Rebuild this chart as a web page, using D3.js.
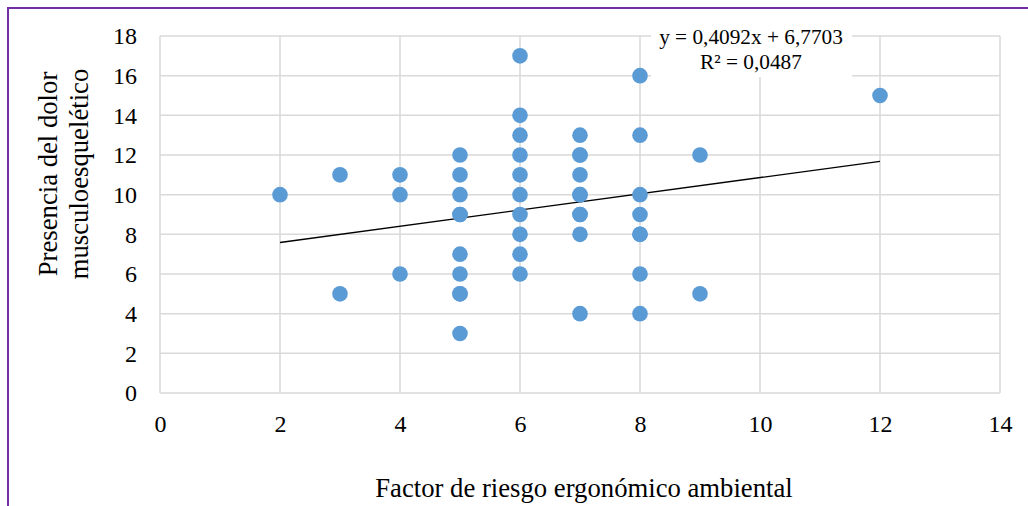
<!DOCTYPE html>
<html>
<head>
<meta charset="utf-8">
<script src="https://cdn.jsdelivr.net/npm/d3@7"></script>
<style>
  body { margin: 0; background: #fff; }
  text { font-family: "Liberation Serif", "Times New Roman", serif; fill: #000; }
</style>
</head>
<body>
<div class="canvas"></div>
<script>
// data
const xValues = [2, 3, 3, 4, 4, 4, 5, 5, 5, 5, 5, 5, 5, 5, 5, 5,
                 6, 6, 6, 6, 6, 6, 6, 6, 6, 6,
                 7, 7, 7, 7, 7, 7, 7, 7, 7, 7,
                 8, 8, 8, 8, 8, 8, 8, 8, 9, 9, 12];
const yValues = [10, 11, 5, 11, 10, 6, 12, 11, 10, 9, 9, 7, 6, 5, 5, 3,
                 17, 14, 13, 12, 11, 10, 9, 8, 7, 6,
                 13, 12, 12, 11, 10, 10, 9, 9, 8, 4,
                 16, 13, 10, 9, 8, 8, 6, 4, 12, 5, 15];
const xTicks = [0, 2, 4, 6, 8, 10, 12, 14];
const yTicks = [0, 2, 4, 6, 8, 10, 12, 14, 16, 18];
const slope = 0.4092, intercept = 6.7703;
const trendLabels = ['y = 0,4092x + 6,7703', 'R² = 0,0487'];

const points = xValues.map((x, i) => ({ x: x, y: yValues[i] }));

const dims = { width: 1028, height: 506 };
const plot = { left: 160, right: 1000, top: 36, bottom: 393 };

const svg = d3.select('.canvas')
    .append('svg')
    .attr('width', dims.width)
    .attr('height', dims.height);

// purple frame (only top and left edges visible)
svg.append('path')
    .attr('d', `M8,${dims.height} L8,8 L${dims.width},8`)
    .attr('fill', 'none')
    .attr('stroke', '#7030a0')
    .attr('stroke-width', 2);

const x = d3.scaleLinear().domain([0, 14]).range([plot.left, plot.right]);
const y = d3.scaleLinear().domain([0, 18]).range([plot.bottom, plot.top]);

// gridlines
const grid = svg.append('g');
grid.selectAll('.vg').data(xTicks).enter().append('line')
    .attr('x1', d => x(d)).attr('x2', d => x(d))
    .attr('y1', plot.top).attr('y2', plot.bottom)
    .attr('stroke', '#d9d9d9').attr('stroke-width', 1.5);
grid.selectAll('.hg').data(yTicks).enter().append('line')
    .attr('x1', plot.left).attr('x2', plot.right)
    .attr('y1', d => y(d)).attr('y2', d => y(d))
    .attr('stroke', '#d9d9d9').attr('stroke-width', 1.5);

// tick labels via axes
const xAxis = svg.append('g')
    .attr('transform', `translate(0,${plot.bottom})`)
    .call(d3.axisBottom(x).tickValues(xTicks).tickSize(0).tickPadding(22));
const yAxis = svg.append('g')
    .attr('transform', `translate(${plot.left},0)`)
    .call(d3.axisLeft(y).tickValues(yTicks).tickSize(0).tickPadding(23));
[xAxis, yAxis].forEach(a => {
    a.select('.domain').remove();
    a.selectAll('text').attr('font-size', 24)
        .attr('font-family', '"Liberation Serif", serif').attr('fill', '#000');
});

// trendline
svg.append('line')
    .attr('x1', x(2)).attr('y1', y(slope * 2 + intercept))
    .attr('x2', x(12)).attr('y2', y(slope * 12 + intercept))
    .attr('stroke', '#000').attr('stroke-width', 1.3);

// points
svg.append('g').selectAll('circle')
    .data(points).enter().append('circle')
    .attr('cx', d => x(d.x))
    .attr('cy', d => y(d.y))
    .attr('r', 7.8)
    .attr('fill', '#5b9bd5');

// trendline label with white background
const lbl = svg.append('g');
lbl.append('rect')
    .attr('x', 651).attr('y', 22).attr('width', 201).attr('height', 55)
    .attr('fill', '#fff');
lbl.selectAll('text').data(trendLabels).enter().append('text')
    .attr('x', 751)
    .attr('y', (d, i) => 44 + i * 25)
    .attr('text-anchor', 'middle')
    .attr('font-size', 21.3)
    .text(d => d);

// axis titles
svg.append('text')
    .attr('x', 584).attr('y', 497)
    .attr('text-anchor', 'middle')
    .attr('font-size', 26.7)
    .text('Factor de riesgo ergonómico ambiental');

const yt = svg.append('text')
    .attr('transform', 'translate(57,174) rotate(-90)')
    .attr('text-anchor', 'middle')
    .attr('font-size', 26.7);
yt.append('tspan').attr('x', 0).attr('dy', 0).text('Presencia del dolor');
yt.append('tspan').attr('x', 0).attr('dy', 31).text('musculoesquelético');
</script>
</body>
</html>
